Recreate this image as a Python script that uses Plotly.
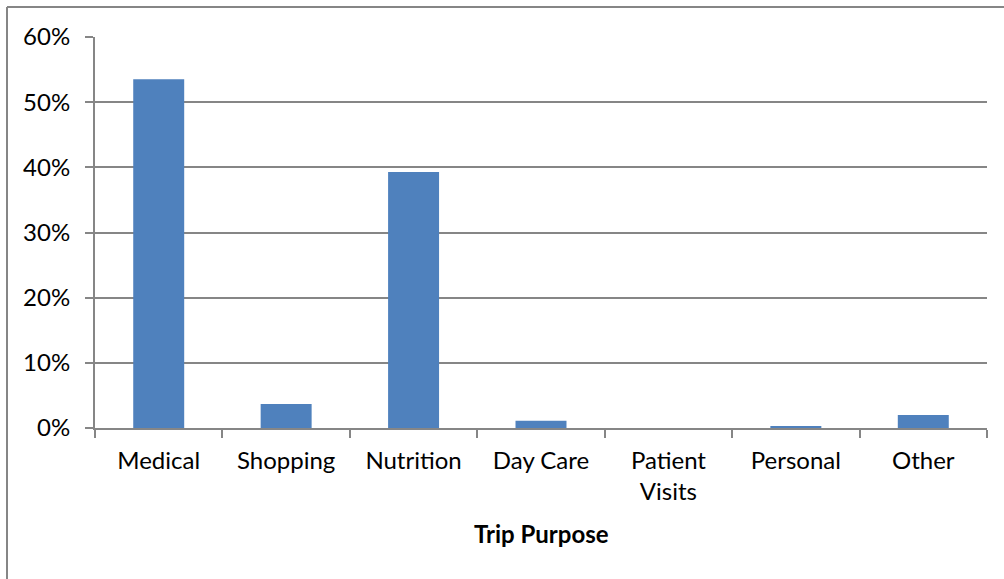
import plotly.graph_objects as go

categories = ["Medical", "Shopping", "Nutrition", "Day Care", "Patient<br>Visits", "Personal", "Other"]
shares = [0.535, 0.037, 0.393, 0.011, 0.0, 0.003, 0.020]
y_ticks = [0, 0.1, 0.2, 0.3, 0.4, 0.5, 0.6]
x_title = "Trip Purpose"

W, H = 1004, 579
L, R, T, B = 95, 17, 37, 151
pw, ph = W - L - R, H - T - B

def px_x(x):
    return (x - L) / pw

def px_y(y):
    return (H - B - y) / ph

font_family = "Lato, Carlito, 'Liberation Sans', sans-serif"
FS = 24

fig = go.Figure(go.Bar(
    x=categories, y=shares,
    marker=dict(color="#4F81BD", line=dict(width=0)),
))

border = dict(color="#868686", width=2)

fig.update_layout(
    width=W, height=H,
    margin=dict(l=L, r=R, t=T, b=B),
    paper_bgcolor="white", plot_bgcolor="white",
    bargap=0.6,
    showlegend=False,
    font=dict(family=font_family, size=FS, color="#000000"),
    xaxis=dict(
        type="category",
        showline=True, linecolor="#868686", linewidth=2,
        ticks="outside", tickson="boundaries", ticklen=8, tickcolor="#868686", tickwidth=2,
        showgrid=False, zeroline=False,
        tickfont=dict(size=FS),
        ticklabelstandoff=10,
    ),
    yaxis=dict(
        range=[0, 0.6], tickvals=y_ticks, tickformat=".0%",
        showline=True, linecolor="#868686", linewidth=2,
        ticks="outside", ticklen=8, tickcolor="#868686", tickwidth=2,
        showgrid=True, gridcolor="#868686", gridwidth=2,
        zeroline=False,
        tickfont=dict(size=FS),
        ticklabelstandoff=10,
    ),
    annotations=[dict(
        text="<b>" + x_title + "</b>", xref="paper", yref="paper",
        x=0.5, y=px_y(533), xanchor="center", yanchor="middle",
        showarrow=False, font=dict(size=FS, family=font_family, color="#000000"),
    )],
    shapes=[
        dict(type="line", xref="paper", yref="paper",
             x0=px_x(7), x1=px_x(7), y0=px_y(590), y1=px_y(7), line=border),
        dict(type="line", xref="paper", yref="paper",
             x0=px_x(7), x1=px_x(1015), y0=px_y(7), y1=px_y(7), line=border),
    ],
)

fig.write_html(
    "out.html",
    config={"displayModeBar": False},
    post_script="document.body.style.margin='0';document.body.style.overflow='hidden';",
)
